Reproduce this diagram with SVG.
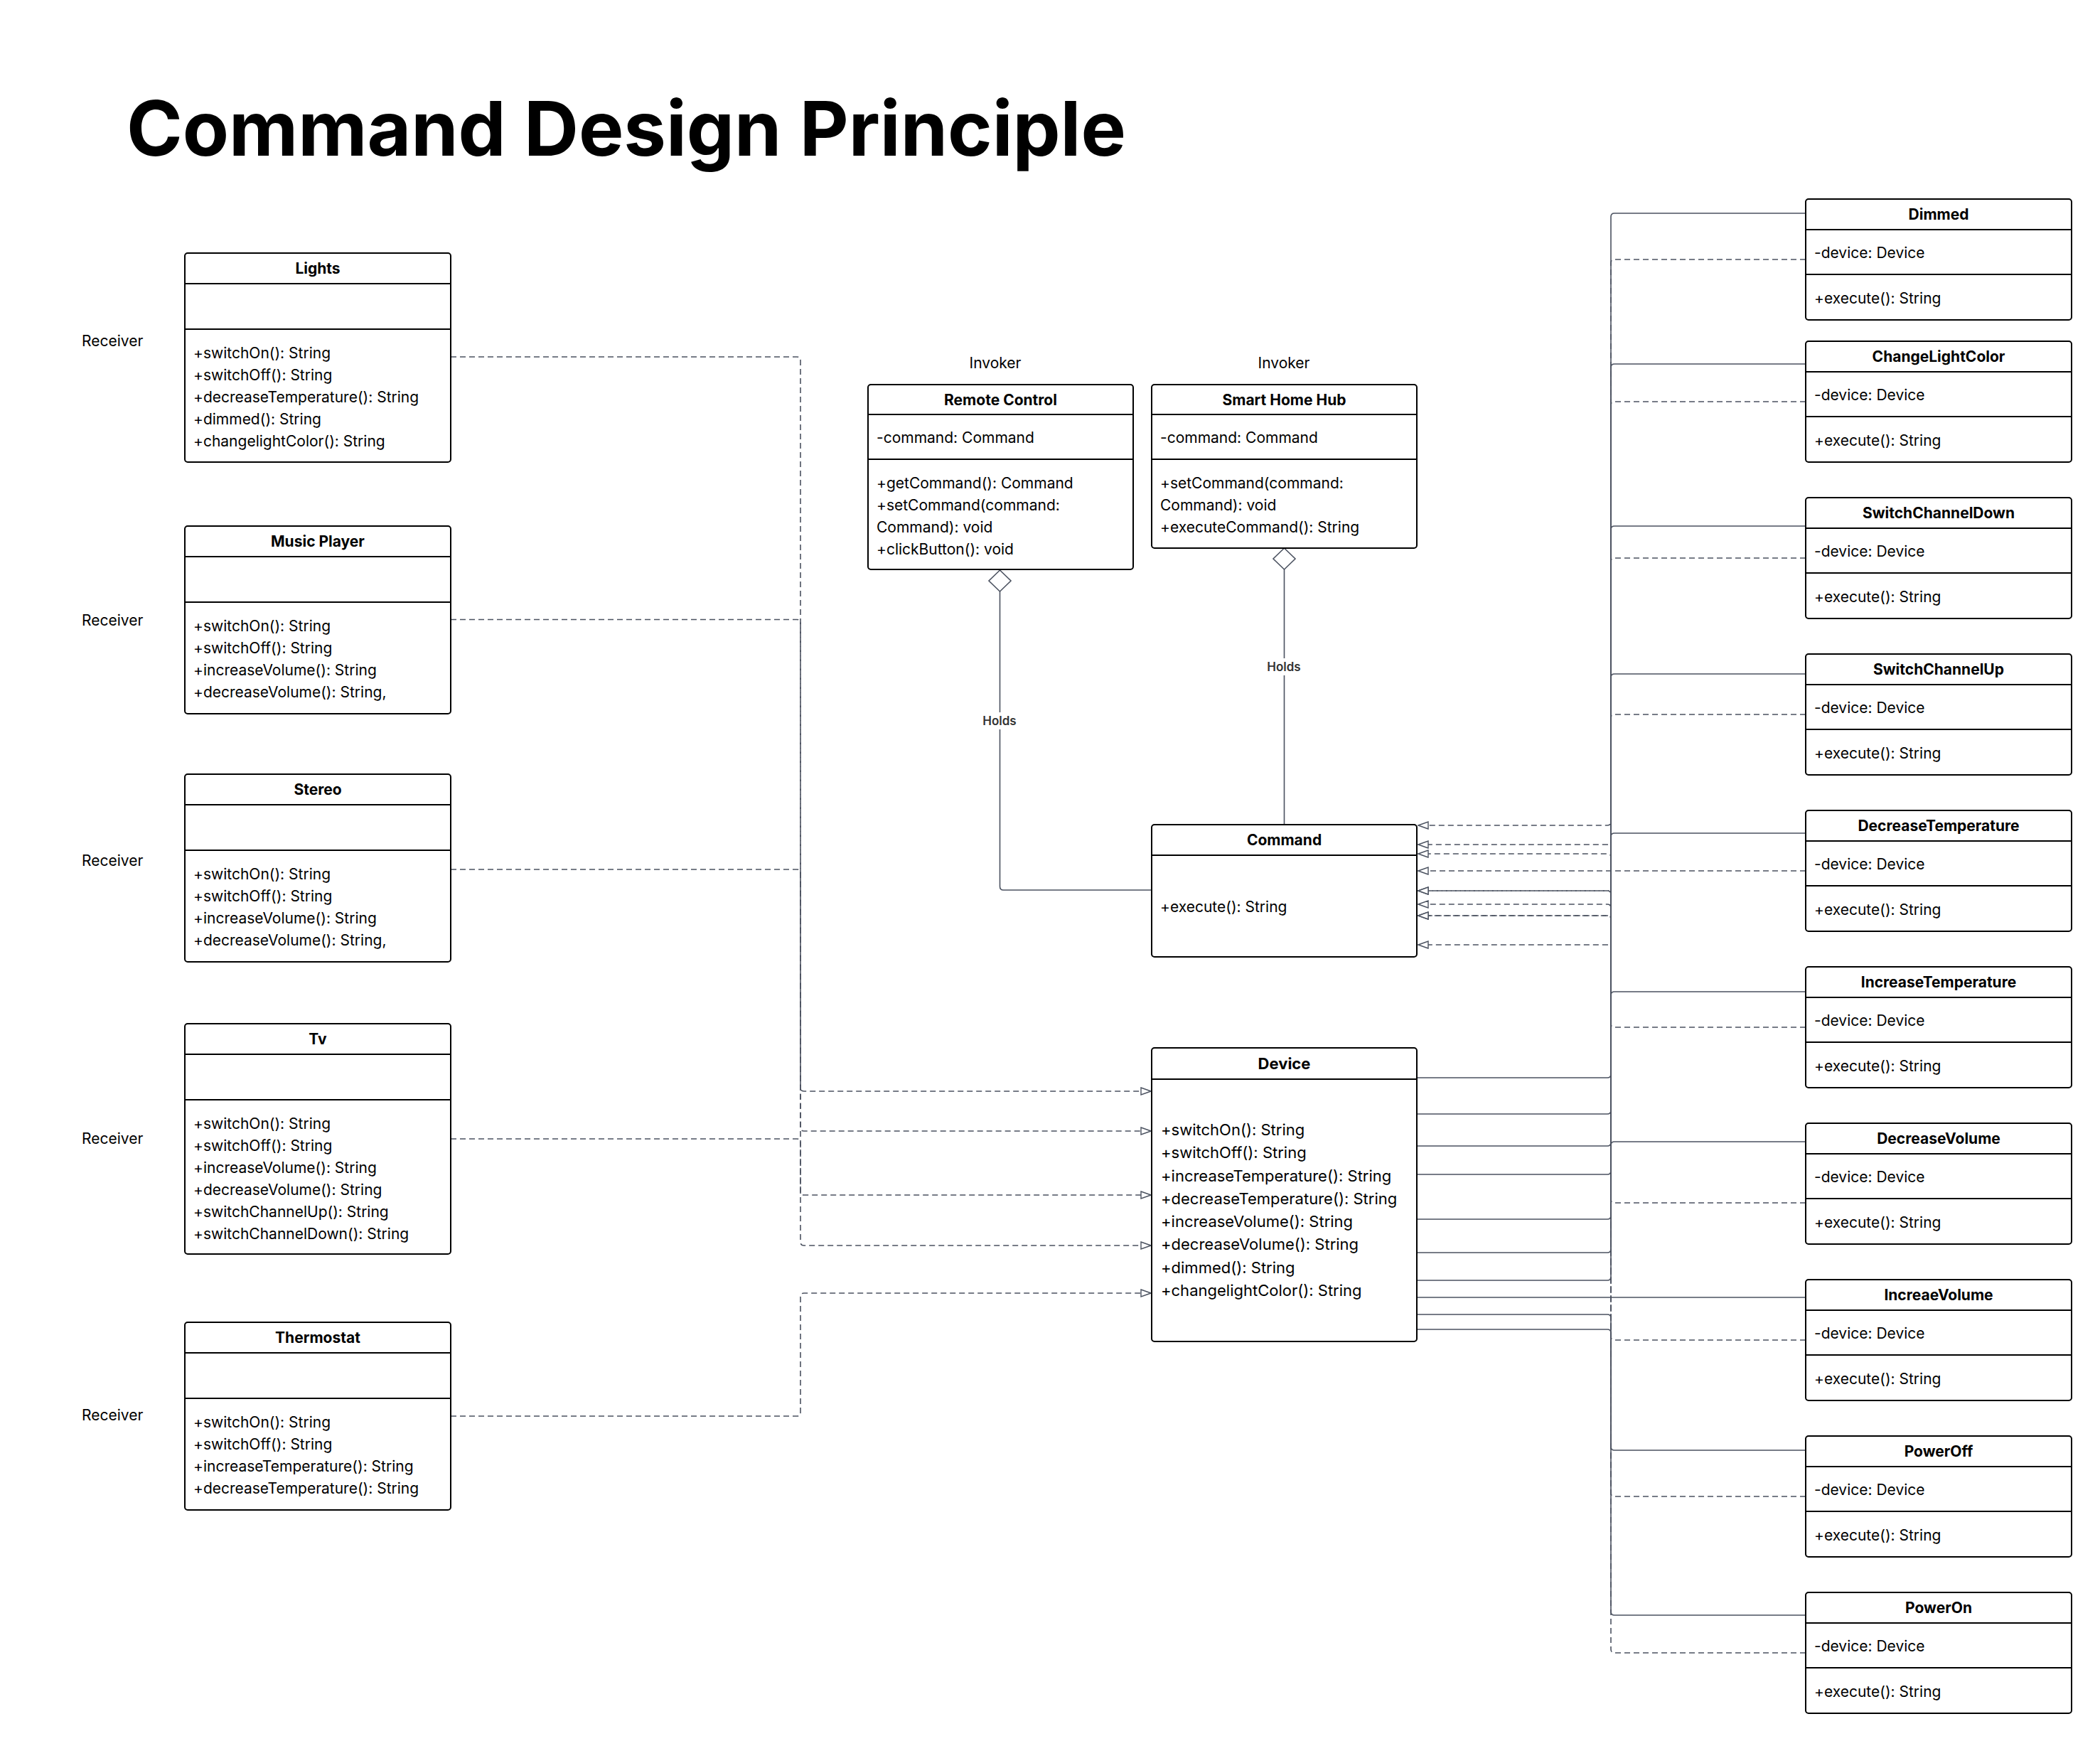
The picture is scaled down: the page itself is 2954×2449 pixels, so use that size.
<svg xmlns="http://www.w3.org/2000/svg" width="2954" height="2449" viewBox="0 0 2954 2449">
<style>
.box{fill:#fff;stroke:#000;stroke-width:2}
.dv{stroke:#000;stroke-width:2}
.t{font-family:Inter,"Liberation Sans",sans-serif;font-size:21px;fill:#000;dominant-baseline:central}
.b{font-weight:700;text-anchor:middle}
.c{text-anchor:middle}
.dev{font-size:22px}
.conn{fill:none;stroke:#4b5260;stroke-width:1.6}
.dash{stroke-dasharray:8 5}
.holds{font-family:Inter,"Liberation Sans",sans-serif;font-size:17px;font-weight:600;fill:#333;text-anchor:middle;dominant-baseline:central}
.title{font-family:Inter,"Liberation Sans",sans-serif;font-size:106.5px;font-weight:700;fill:#000}
</style>
<defs>
<marker id="tri" viewBox="0 0 16 12" refX="15" refY="6" markerWidth="16" markerHeight="12" markerUnits="userSpaceOnUse" orient="auto">
<path d="M1,1 L15,6 L1,11 z" fill="#fff" stroke="#4b5260" stroke-width="1.4" stroke-dasharray="none"/>
</marker>
</defs>
<rect width="2954" height="2449" fill="#fff"/>
<text class="title" x="178" y="219">Command Design Principle</text>

<g id="connectors">
<!-- receivers to Device -->
<path class="conn dash" marker-end="url(#tri)" d="M634,502 H1121 Q1126,502 1126,507 V1530 Q1126,1535 1131,1535 H1619"/>
<path class="conn dash" marker-end="url(#tri)" d="M634,871.5 H1121 Q1126,871.5 1126,876.5 V1586 Q1126,1591 1131,1591 H1619"/>
<path class="conn dash" marker-end="url(#tri)" d="M634,1223 H1121 Q1126,1223 1126,1228 V1676 Q1126,1681 1131,1681 H1619"/>
<path class="conn dash" marker-end="url(#tri)" d="M634,1602 H1121 Q1126,1602 1126,1607 V1747 Q1126,1752 1131,1752 H1619"/>
<path class="conn dash" marker-end="url(#tri)" d="M634,1992 H1121 Q1126,1992 1126,1987 V1824 Q1126,1819 1131,1819 H1619"/>
<!-- holds -->
<path class="conn" d="M1406.5,832 V1247 Q1406.5,1252 1411.5,1252 H1620"/>
<path class="conn" d="M1806.5,801 V1160"/>
<polygon points="1406.5,802 1422,817 1406.5,832 1391,817" fill="#fff" stroke="#4b5260" stroke-width="1.6"/>
<polygon points="1806.5,771 1822,786 1806.5,801 1791,786" fill="#fff" stroke="#4b5260" stroke-width="1.6"/>
<rect x="1379" y="1002" width="55" height="24" fill="#fff"/>
<text class="holds" x="1406" y="1014">Holds</text>
<rect x="1779" y="926" width="55" height="24" fill="#fff"/>
<text class="holds" x="1806" y="938">Holds</text>
<!-- commands to Device (association) -->
<path class="conn" d="M2540,300 H2271 Q2266,300 2266,305 V1511 Q2266,1516 2261,1516 H1994"/>
<path class="conn" d="M2540,512 H2271 Q2266,512 2266,517 V1562 Q2266,1567 2261,1567 H1994"/>
<path class="conn" d="M2540,740 H2271 Q2266,740 2266,745 V1607 Q2266,1612 2261,1612 H1994"/>
<path class="conn" d="M2540,948 H2271 Q2266,948 2266,953 V1647 Q2266,1652 2261,1652 H1994"/>
<path class="conn" d="M2540,1172 H2271 Q2266,1172 2266,1177 V1710 Q2266,1715 2261,1715 H1994"/>
<path class="conn" d="M2540,1395 H2271 Q2266,1395 2266,1400 V1757 Q2266,1762 2261,1762 H1994"/>
<path class="conn" d="M2540,1606 H2271 Q2266,1606 2266,1611 V1796 Q2266,1801 2261,1801 H1994"/>
<path class="conn" d="M2540,1825 H1994"/>
<path class="conn" d="M2540,2040 H2271 Q2266,2040 2266,2035 V1854 Q2266,1849 2261,1849 H1994"/>
<path class="conn" d="M2540,2272 H2271 Q2266,2272 2266,2267 V1875 Q2266,1870 2261,1870 H1994"/>
<!-- commands to Command (realization) -->
<path class="conn dash" marker-end="url(#tri)" d="M2540,365 H2271 Q2266,365 2266,370 V1156 Q2266,1161 2261,1161 H1995"/>
<path class="conn dash" marker-end="url(#tri)" d="M2540,565 H2271 Q2266,565 2266,570 V1183 Q2266,1188 2261,1188 H1995"/>
<path class="conn dash" marker-end="url(#tri)" d="M2540,785 H2271 Q2266,785 2266,790 V1248 Q2266,1253 2261,1253 H1995"/>
<path class="conn dash" marker-end="url(#tri)" d="M2540,1005 H2271 Q2266,1005 2266,1010 V1324 Q2266,1329 2261,1329 H1995"/>
<path class="conn dash" marker-end="url(#tri)" d="M2540,1225 H1995"/>
<path class="conn dash" marker-end="url(#tri)" d="M2540,1445 H2271 Q2266,1445 2266,1440 V1206 Q2266,1201 2261,1201 H1995"/>
<path class="conn dash" marker-end="url(#tri)" d="M2540,1692 H2271 Q2266,1692 2266,1687 V1277 Q2266,1272 2261,1272 H1995"/>
<path class="conn dash" marker-end="url(#tri)" d="M2540,1885 H2271 Q2266,1885 2266,1880 V1293 Q2266,1288 2261,1288 H1995"/>
<path class="conn dash" marker-end="url(#tri)" d="M2540,2105 H2271 Q2266,2105 2266,2100 V1258 Q2266,1253 2261,1253 H1995"/>
<path class="conn dash" marker-end="url(#tri)" d="M2540,2325 H2271 Q2266,2325 2266,2320 V1293 Q2266,1288 2261,1288 H1995"/>
</g>

<!-- Receivers -->
<text class="t" x="115" y="479">Receiver</text>
<text class="t" x="115" y="872">Receiver</text>
<text class="t" x="115" y="1210">Receiver</text>
<text class="t" x="115" y="1601">Receiver</text>
<text class="t" x="115" y="1990">Receiver</text>

<g id="lights">
<rect class="box" x="260" y="356" width="374" height="294" rx="4"/>
<line class="dv" x1="260" y1="399" x2="634" y2="399"/>
<line class="dv" x1="260" y1="463" x2="634" y2="463"/>
<text class="t b" x="447" y="377.5">Lights</text>
<text class="t" x="272" y="496">+switchOn(): String</text>
<text class="t" x="272" y="527">+switchOff(): String</text>
<text class="t" x="272" y="558">+decreaseTemperature(): String</text>
<text class="t" x="272" y="589">+dimmed(): String</text>
<text class="t" x="272" y="620">+changelightColor(): String</text>
</g>
<g id="musicplayer">
<rect class="box" x="260" y="740" width="374" height="264" rx="4"/>
<line class="dv" x1="260" y1="783" x2="634" y2="783"/>
<line class="dv" x1="260" y1="847" x2="634" y2="847"/>
<text class="t b" x="447" y="761.5">Music Player</text>
<text class="t" x="272" y="880">+switchOn(): String</text>
<text class="t" x="272" y="911">+switchOff(): String</text>
<text class="t" x="272" y="942">+increaseVolume(): String</text>
<text class="t" x="272" y="973">+decreaseVolume(): String,</text>
</g>
<g id="stereo">
<rect class="box" x="260" y="1089" width="374" height="264" rx="4"/>
<line class="dv" x1="260" y1="1132" x2="634" y2="1132"/>
<line class="dv" x1="260" y1="1196" x2="634" y2="1196"/>
<text class="t b" x="447" y="1110.5">Stereo</text>
<text class="t" x="272" y="1229">+switchOn(): String</text>
<text class="t" x="272" y="1260">+switchOff(): String</text>
<text class="t" x="272" y="1291">+increaseVolume(): String</text>
<text class="t" x="272" y="1322">+decreaseVolume(): String,</text>
</g>
<g id="tv">
<rect class="box" x="260" y="1440" width="374" height="324" rx="4"/>
<line class="dv" x1="260" y1="1483" x2="634" y2="1483"/>
<line class="dv" x1="260" y1="1547" x2="634" y2="1547"/>
<text class="t b" x="447" y="1461.5">Tv</text>
<text class="t" x="272" y="1580">+switchOn(): String</text>
<text class="t" x="272" y="1611">+switchOff(): String</text>
<text class="t" x="272" y="1642">+increaseVolume(): String</text>
<text class="t" x="272" y="1673">+decreaseVolume(): String</text>
<text class="t" x="272" y="1704">+switchChannelUp(): String</text>
<text class="t" x="272" y="1735">+switchChannelDown(): String</text>
</g>
<g id="thermostat">
<rect class="box" x="260" y="1860" width="374" height="264" rx="4"/>
<line class="dv" x1="260" y1="1903" x2="634" y2="1903"/>
<line class="dv" x1="260" y1="1967" x2="634" y2="1967"/>
<text class="t b" x="447" y="1881.5">Thermostat</text>
<text class="t" x="272" y="2000">+switchOn(): String</text>
<text class="t" x="272" y="2031">+switchOff(): String</text>
<text class="t" x="272" y="2062">+increaseTemperature(): String</text>
<text class="t" x="272" y="2093">+decreaseTemperature(): String</text>
</g>

<!-- Invokers -->
<text class="t c" x="1400" y="510">Invoker</text>
<text class="t c" x="1806" y="510">Invoker</text>
<g id="remotecontrol">
<rect class="box" x="1221" y="541" width="373" height="260" rx="4"/>
<line class="dv" x1="1221" y1="583" x2="1594" y2="583"/>
<line class="dv" x1="1221" y1="646" x2="1594" y2="646"/>
<text class="t b" x="1407.5" y="562">Remote Control</text>
<text class="t" x="1233" y="615">-command: Command</text>
<text class="t" x="1233" y="679">+getCommand(): Command</text>
<text class="t" x="1233" y="710">+setCommand(command:</text>
<text class="t" x="1233" y="741">Command): void</text>
<text class="t" x="1233" y="772">+clickButton(): void</text>
</g>
<g id="smarthomehub">
<rect class="box" x="1620" y="541" width="373" height="230" rx="4"/>
<line class="dv" x1="1620" y1="583" x2="1993" y2="583"/>
<line class="dv" x1="1620" y1="646" x2="1993" y2="646"/>
<text class="t b" x="1806.5" y="562">Smart Home Hub</text>
<text class="t" x="1632" y="615">-command: Command</text>
<text class="t" x="1632" y="679">+setCommand(command:</text>
<text class="t" x="1632" y="710">Command): void</text>
<text class="t" x="1632" y="741">+executeCommand(): String</text>
</g>
<g id="command">
<rect class="box" x="1620" y="1160" width="373" height="186" rx="4"/>
<line class="dv" x1="1620" y1="1203" x2="1993" y2="1203"/>
<text class="t b" x="1806.5" y="1181.5">Command</text>
<text class="t" x="1632" y="1275">+execute(): String</text>
</g>
<g id="device">
<rect class="box" x="1620" y="1474" width="373" height="413" rx="4"/>
<line class="dv" x1="1620" y1="1518" x2="1993" y2="1518"/>
<text class="t b dev" x="1806.5" y="1496">Device</text>
<text class="t dev" x="1633" y="1589">+switchOn(): String</text>
<text class="t dev" x="1633" y="1621">+switchOff(): String</text>
<text class="t dev" x="1633" y="1654">+increaseTemperature(): String</text>
<text class="t dev" x="1633" y="1686">+decreaseTemperature(): String</text>
<text class="t dev" x="1633" y="1718">+increaseVolume(): String</text>
<text class="t dev" x="1633" y="1750">+decreaseVolume(): String</text>
<text class="t dev" x="1633" y="1783">+dimmed(): String</text>
<text class="t dev" x="1633" y="1815">+changelightColor(): String</text>
</g>

<!-- Concrete commands -->
<g id="dimmed">
<rect class="box" x="2540" y="280" width="374" height="170" rx="4"/>
<line class="dv" x1="2540" y1="323" x2="2914" y2="323"/>
<line class="dv" x1="2540" y1="386" x2="2914" y2="386"/>
<text class="t b" x="2727" y="301.5">Dimmed</text>
<text class="t" x="2552" y="355">-device: Device</text>
<text class="t" x="2552" y="419">+execute(): String</text>
</g>
<g id="changelightcolor">
<rect class="box" x="2540" y="480" width="374" height="170" rx="4"/>
<line class="dv" x1="2540" y1="523" x2="2914" y2="523"/>
<line class="dv" x1="2540" y1="586" x2="2914" y2="586"/>
<text class="t b" x="2727" y="501.5">ChangeLightColor</text>
<text class="t" x="2552" y="555">-device: Device</text>
<text class="t" x="2552" y="619">+execute(): String</text>
</g>
<g id="switchchanneldown">
<rect class="box" x="2540" y="700" width="374" height="170" rx="4"/>
<line class="dv" x1="2540" y1="743" x2="2914" y2="743"/>
<line class="dv" x1="2540" y1="806" x2="2914" y2="806"/>
<text class="t b" x="2727" y="721.5">SwitchChannelDown</text>
<text class="t" x="2552" y="775">-device: Device</text>
<text class="t" x="2552" y="839">+execute(): String</text>
</g>
<g id="switchchannelup">
<rect class="box" x="2540" y="920" width="374" height="170" rx="4"/>
<line class="dv" x1="2540" y1="963" x2="2914" y2="963"/>
<line class="dv" x1="2540" y1="1026" x2="2914" y2="1026"/>
<text class="t b" x="2727" y="941.5">SwitchChannelUp</text>
<text class="t" x="2552" y="995">-device: Device</text>
<text class="t" x="2552" y="1059">+execute(): String</text>
</g>
<g id="decreasetemperature">
<rect class="box" x="2540" y="1140" width="374" height="170" rx="4"/>
<line class="dv" x1="2540" y1="1183" x2="2914" y2="1183"/>
<line class="dv" x1="2540" y1="1246" x2="2914" y2="1246"/>
<text class="t b" x="2727" y="1161.5">DecreaseTemperature</text>
<text class="t" x="2552" y="1215">-device: Device</text>
<text class="t" x="2552" y="1279">+execute(): String</text>
</g>
<g id="increasetemperature">
<rect class="box" x="2540" y="1360" width="374" height="170" rx="4"/>
<line class="dv" x1="2540" y1="1403" x2="2914" y2="1403"/>
<line class="dv" x1="2540" y1="1466" x2="2914" y2="1466"/>
<text class="t b" x="2727" y="1381.5">IncreaseTemperature</text>
<text class="t" x="2552" y="1435">-device: Device</text>
<text class="t" x="2552" y="1499">+execute(): String</text>
</g>
<g id="decreasevolume">
<rect class="box" x="2540" y="1580" width="374" height="170" rx="4"/>
<line class="dv" x1="2540" y1="1623" x2="2914" y2="1623"/>
<line class="dv" x1="2540" y1="1686" x2="2914" y2="1686"/>
<text class="t b" x="2727" y="1601.5">DecreaseVolume</text>
<text class="t" x="2552" y="1655">-device: Device</text>
<text class="t" x="2552" y="1719">+execute(): String</text>
</g>
<g id="increaevolume">
<rect class="box" x="2540" y="1800" width="374" height="170" rx="4"/>
<line class="dv" x1="2540" y1="1843" x2="2914" y2="1843"/>
<line class="dv" x1="2540" y1="1906" x2="2914" y2="1906"/>
<text class="t b" x="2727" y="1821.5">IncreaeVolume</text>
<text class="t" x="2552" y="1875">-device: Device</text>
<text class="t" x="2552" y="1939">+execute(): String</text>
</g>
<g id="poweroff">
<rect class="box" x="2540" y="2020" width="374" height="170" rx="4"/>
<line class="dv" x1="2540" y1="2063" x2="2914" y2="2063"/>
<line class="dv" x1="2540" y1="2126" x2="2914" y2="2126"/>
<text class="t b" x="2727" y="2041.5">PowerOff</text>
<text class="t" x="2552" y="2095">-device: Device</text>
<text class="t" x="2552" y="2159">+execute(): String</text>
</g>
<g id="poweron">
<rect class="box" x="2540" y="2240" width="374" height="170" rx="4"/>
<line class="dv" x1="2540" y1="2283" x2="2914" y2="2283"/>
<line class="dv" x1="2540" y1="2346" x2="2914" y2="2346"/>
<text class="t b" x="2727" y="2261.5">PowerOn</text>
<text class="t" x="2552" y="2315">-device: Device</text>
<text class="t" x="2552" y="2379">+execute(): String</text>
</g>
</svg>
